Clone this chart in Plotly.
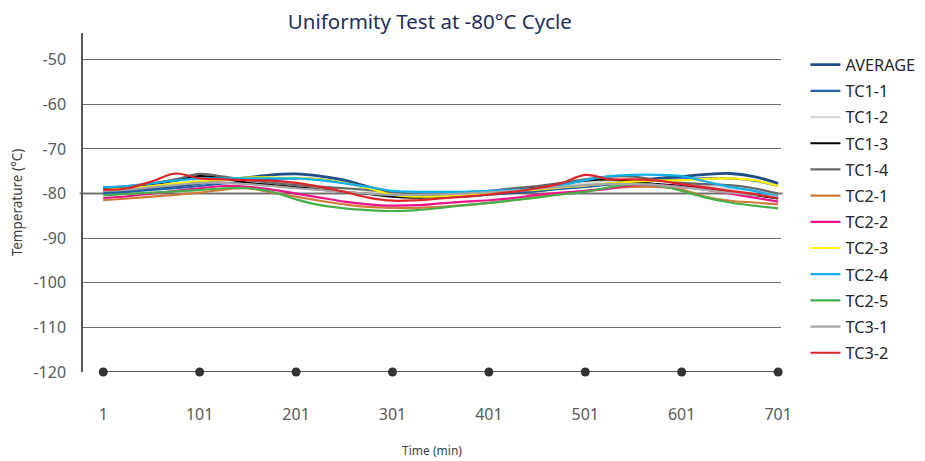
import plotly.graph_objects as go

time_min = [1, 26, 51, 76, 101, 126, 151, 176, 201, 226, 251, 276, 301, 326, 351,
            376, 401, 426, 451, 476, 501, 526, 551, 576, 601, 626, 651, 676, 701]
tick_vals = [1, 101, 201, 301, 401, 501, 601, 701]
tick_text = ["1", "101", "201", "301", "401", "501", "601", "701"]
y_ticks = [-50, -60, -70, -80, -90, -100, -110, -120]
y_tick_text = ["-50", "-60", "-70", "-80", "-90", "-100", "-110", "-120"]

average = [-79.6, -79.2, -78.8, -78.3, -77.7, -77.0, -76.4, -75.8, -75.6, -76.1, -77.0, -78.5, -80.0, -80.7, -80.7,
           -80.6, -80.2, -79.8, -79.4, -78.8, -78.3, -77.8, -77.1, -76.6, -76.2, -75.7, -75.5, -76.2, -77.7]
tc1_1 = [-80.0, -79.6, -79.2, -78.8, -78.3, -77.7, -77.2, -76.7, -76.6, -76.8, -77.6, -78.8, -80.0, -80.6, -80.6,
         -80.4, -80.1, -79.7, -79.4, -78.9, -78.5, -78.0, -77.6, -77.1, -76.8, -76.6, -76.6, -77.1, -78.3]
tc1_2 = [-79.1, -78.8, -78.3, -77.7, -77.1, -77.1, -77.3, -77.6, -77.9, -78.3, -78.8, -79.4, -79.8, -80.0, -80.0,
         -79.8, -79.6, -79.2, -78.8, -78.3, -77.7, -77.1, -77.0, -77.1, -77.7, -78.3, -78.8, -79.4, -80.0]
tc1_3 = [-78.7, -78.5, -77.9, -77.1, -76.1, -76.6, -77.6, -78.1, -78.6, -79.1, -79.6, -80.1, -80.7, -80.9, -80.6,
         -80.2, -79.8, -79.2, -78.6, -77.9, -77.1, -76.8, -77.3, -77.9, -78.3, -78.8, -79.6, -80.3, -81.1]
tc1_4 = [-78.6, -78.3, -77.7, -76.8, -75.6, -76.2, -77.0, -77.6, -78.1, -78.5, -78.8, -79.2, -79.7, -80.0, -80.0,
         -79.7, -79.4, -78.8, -78.3, -77.6, -76.8, -76.2, -76.2, -77.0, -77.6, -77.9, -78.1, -78.8, -80.0]
tc2_1 = [-81.5, -81.1, -80.7, -80.3, -79.8, -79.1, -78.8, -79.8, -80.7, -81.6, -82.4, -83.0, -83.2, -83.2, -83.0,
         -82.6, -82.1, -81.5, -80.7, -80.0, -79.4, -78.8, -78.5, -78.5, -79.1, -80.7, -81.6, -82.0, -82.4]
tc2_2 = [-81.0, -80.6, -80.0, -79.4, -78.8, -78.3, -78.5, -79.1, -80.0, -80.9, -81.8, -82.4, -82.7, -82.6, -82.2,
         -81.8, -81.5, -81.0, -80.3, -79.8, -79.4, -78.9, -78.1, -78.1, -78.5, -79.1, -80.0, -80.9, -81.8]
tc2_3 = [-79.2, -78.8, -78.3, -77.7, -77.3, -76.8, -76.4, -76.4, -76.5, -76.8, -77.6, -78.8, -80.3, -80.7, -80.6,
         -80.3, -80.0, -79.4, -79.1, -78.6, -78.2, -77.7, -77.3, -77.1, -77.0, -76.7, -76.6, -77.0, -78.3]
tc2_4 = [-78.6, -78.3, -77.7, -77.1, -76.6, -76.6, -76.6, -76.6, -76.6, -77.0, -77.7, -78.5, -79.4, -79.6, -79.6,
         -79.6, -79.4, -79.2, -78.8, -78.1, -77.0, -76.1, -75.8, -75.8, -76.1, -77.3, -78.5, -79.4, -80.6]
tc2_5 = [-80.4, -80.1, -79.8, -79.5, -79.2, -78.8, -78.8, -79.6, -81.3, -82.6, -83.3, -83.7, -83.9, -83.7, -83.2,
         -82.6, -82.1, -81.5, -80.9, -80.2, -79.6, -78.6, -77.9, -78.1, -79.4, -80.9, -82.0, -82.7, -83.3]
tc3_1 = [-79.4, -79.1, -78.6, -78.1, -77.6, -77.6, -77.9, -78.3, -78.8, -79.2, -79.6, -80.0, -80.3, -80.3, -80.2,
         -80.0, -79.7, -79.4, -78.9, -78.5, -78.1, -77.9, -77.9, -78.1, -78.6, -79.2, -79.8, -80.3, -80.7]
tc3_2 = [-79.2, -78.8, -77.3, -75.5, -76.6, -76.8, -77.0, -77.1, -77.6, -78.5, -79.6, -80.9, -81.6, -81.5, -81.1,
         -80.7, -80.2, -79.6, -78.8, -77.7, -75.8, -76.8, -76.8, -77.1, -77.9, -78.6, -79.4, -80.1, -81.1]

marker_times = [1, 101, 201, 301, 401, 501, 601, 701]
marker_level = [-120, -120, -120, -120, -120, -120, -120, -120]
setpoint = -80

series = [
    ("AVERAGE", average, "#1F4E86", 2.8),
    ("TC1-1", tc1_1, "#2161A8", 2.2),
    ("TC1-2", tc1_2, "#D9D9D9", 2.2),
    ("TC1-3", tc1_3, "#000000", 2.2),
    ("TC1-4", tc1_4, "#666666", 2.2),
    ("TC2-1", tc2_1, "#D07A3A", 2.2),
    ("TC2-2", tc2_2, "#EC128C", 2.2),
    ("TC2-3", tc2_3, "#FFF200", 2.2),
    ("TC2-4", tc2_4, "#10B0EE", 2.2),
    ("TC2-5", tc2_5, "#45B04A", 2.2),
    ("TC3-1", tc3_1, "#A6A6A6", 2.2),
    ("TC3-2", tc3_2, "#DD2428", 2.2),
]

fig = go.Figure()

fig.add_trace(go.Scatter(
    x=marker_times, y=marker_level, mode="lines+markers",
    line=dict(color="#595959", width=2),
    marker=dict(color="#333333", size=9),
    showlegend=False, cliponaxis=False, hoverinfo="skip",
))

for name, vals, color, w in series:
    fig.add_trace(go.Scatter(
        x=time_min, y=vals, name=name, mode="lines",
        line=dict(color=color, width=w, shape="spline", smoothing=1.0),
        legendgroup=name,
    ))

fig.add_shape(type="line", xref="paper", yref="y", x0=-0.005, x1=1.003,
              y0=setpoint, y1=setpoint, line=dict(color="#A6A6A6", width=2.5), layer="between")

# page has an 8px body margin, so the figure is sized/positioned to compensate
fig.update_layout(
    width=917, height=453,
    margin=dict(l=75, r=144, t=25, b=89, autoexpand=False),
    paper_bgcolor="white", plot_bgcolor="white",
    font=dict(family="Noto Sans", color="#595959"),
    title=dict(text="Uniformity Test at -80°C Cycle", x=0.46, xanchor="center",
               y=0.97, yanchor="middle",
               font=dict(family="Noto Sans", size=20.5, color="#1F2F5C")),
    legend=dict(x=1.035, xanchor="left", y=0.957, yanchor="top",
                font=dict(family="Noto Sans", size=16.3, color="#262626"),
                tracegroupgap=2, itemwidth=30, bgcolor="rgba(0,0,0,0)",
                maxheight=440),
    showlegend=True,
)

fig.update_xaxes(
    range=[-20, 704], tickvals=tick_vals, ticktext=tick_text, automargin=False,
    showgrid=False, zeroline=False, showline=False, ticks="",
    tickfont=dict(size=16, color="#595959"), ticklabelstandoff=31,
    title=dict(text="Time (min)", font=dict(size=12, color="#404040"), standoff=22),
)
fig.update_yaxes(
    range=[-120, -44], tickvals=y_ticks, ticktext=y_tick_text, automargin=False,
    showgrid=True, gridcolor="#6E6E6E", gridwidth=1, zeroline=False,
    showline=True, linecolor="#595959", linewidth=1.5, ticks="",
    tickfont=dict(size=16, color="#595959"), ticklabelstandoff=12,
    title=dict(text="Temperature (°C)", font=dict(size=13.5, color="#404040"), standoff=13),
)

fig.write_html("out.html")
